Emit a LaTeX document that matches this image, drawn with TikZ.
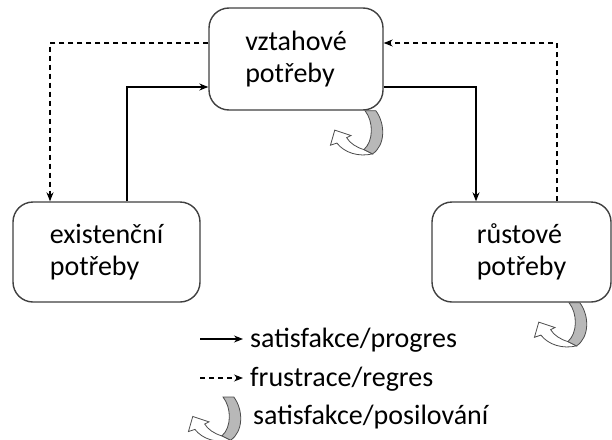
\documentclass[tikz,border=0pt]{standalone}
\usepackage{fontspec}
\setmainfont{Carlito}
\usetikzlibrary{arrows.meta}
\tikzset{
  box/.style={draw=black!75, line width=1.4pt, rounded corners=20pt, fill=white,
    align=left, font=\fontsize{28}{32}\selectfont, inner sep=0pt},
  conn/.style={line width=1.1pt, -{Stealth[length=9pt,width=7pt]}},
  dconn/.style={conn, dash pattern=on 5pt off 4pt},
  legtext/.style={font=\fontsize{28}{32}\selectfont, anchor=base west, inner sep=0pt},
  curl/.pic={
    \filldraw[fill=white, draw=black!70, line width=0.8pt]
      (-1,36) .. controls (-8,34) and (-14,30) .. (-17,25) -- (-13,23) -- (-28,18)
      -- (-32,32) -- (-26,30) .. controls (-19,39) and (-6,43) .. (7,40) -- cycle;
    \filldraw[fill=black!28, draw=black!70, line width=0.8pt]
      (0,0) -- (10,0) .. controls (19,12) and (19,32) .. (7,40) -- (-1,36)
      .. controls (8,28) and (8,10) .. (0,0) -- cycle;
  }
}
\begin{document}
\begin{tikzpicture}[x=1pt,y=-1pt]
\useasboundingbox (0,0) rectangle (612,439);
\node[box, minimum width=174pt, minimum height=102pt] (vz) at (296,59) {vztahové\\potřeby};
\node[box, minimum width=187pt, minimum height=100pt] (ex) at (106.5,252) {existenční\\potřeby};
\node[box, minimum width=179pt, minimum height=100pt] (ru) at (521.5,252) {růstové\\potřeby};

% solid connectors
\draw[conn] ([xshift=20.5pt]ex.north) |- ([yshift=-28pt]vz.west);
\draw[conn] ([yshift=-28pt]vz.east) -| ([xshift=-45.5pt]ru.north);
% dashed connectors
\draw[dconn] ([yshift=16pt]vz.west) -| ([xshift=-56.5pt]ex.north);
\draw[dconn] ([xshift=35.5pt]ru.north) |- ([yshift=16pt]vz.east);

% reinforcement arrows
\pic[scale=1.08] at ([xshift=69pt]vz.south) {curl};
\pic[scale=1.08] at ([xshift=47.5pt]ru.south) {curl};

% legend
\node[legtext] (t1) at (250,347) {satisfakce/progres};
\node[legtext] (t2) at (250,386) {frustrace/regres};
\node[legtext] (t3) at (253,424) {satisfakce/posilování};
\coordinate (s1) at (200,339);
\coordinate (e1) at (243,339);
\coordinate (s2) at (200,378);
\coordinate (e2) at (243,378);
\draw[conn] (s1) -- (e1);
\draw[dconn] (s2) -- (e2);
\pic[scale=1.08] at (223,397) {curl};
\end{tikzpicture}
\end{document}
